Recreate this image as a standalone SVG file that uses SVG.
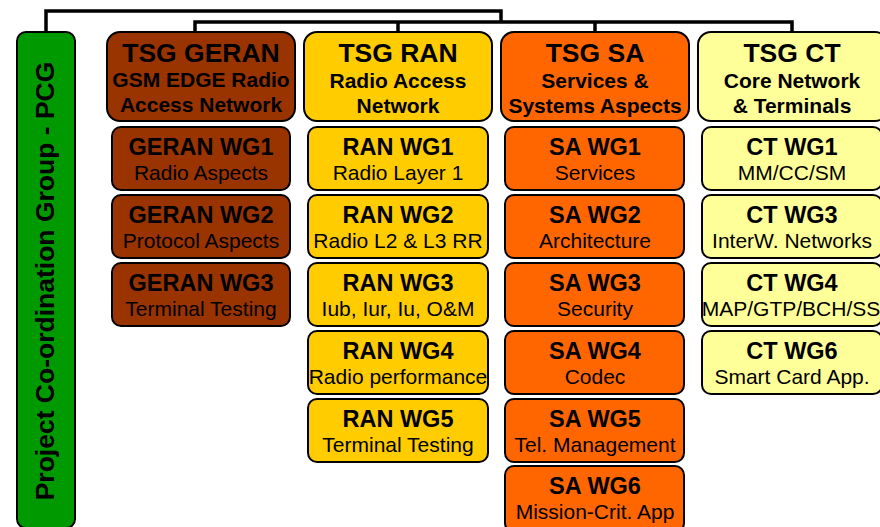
<svg xmlns="http://www.w3.org/2000/svg" width="880" height="527" viewBox="0 0 880 527">
<style>
.box{stroke:#000;stroke-width:2}
.geran{fill:#993300}.ran{fill:#FFCC00}.sa{fill:#FF6600}.ct{fill:#FFFF99}.pcg{fill:#009900}
text{font-family:"Liberation Sans",Arial,sans-serif;fill:#000;text-anchor:middle}
.t{font-size:26.5px;font-weight:bold}
.s{font-size:21px;font-weight:bold}
.w{font-size:23.5px;font-weight:bold}
.d{font-size:21px}
.conn{fill:none;stroke:#000;stroke-width:3.5}
</style>
<rect width="880" height="527" fill="#fff"/>
<g id="connectors">
<path class="conn" d="M46,33 V11 H501 V22"/>
<path class="conn" d="M195,33 V22 H792 V33"/>
<path class="conn" d="M398,22 V33"/>
<path class="conn" d="M595,22 V33"/>
</g>
<g id="pcg">
<rect class="box pcg" x="17" y="32" width="58" height="496" rx="9"/>
<text class="t" transform="translate(54,281) rotate(-90)">Project Co-ordination Group - PCG</text>
</g>
<g id="tsg-geran">
<rect class="box geran" x="107" y="32" width="188" height="89" rx="13"/>
<text class="t" x="201" y="62">TSG GERAN</text>
<text class="s" x="201" y="87">GSM EDGE Radio</text>
<text class="s" x="201" y="112">Access Network</text>
</g>
<g id="tsg-ran">
<rect class="box ran" x="304" y="32" width="188" height="89" rx="13"/>
<text class="t" x="398" y="62">TSG RAN</text>
<text class="s" x="398" y="88">Radio Access</text>
<text class="s" x="398" y="113">Network</text>
</g>
<g id="tsg-sa">
<rect class="box sa" x="501" y="32" width="188" height="89" rx="13"/>
<text class="t" x="595" y="62">TSG SA</text>
<text class="s" x="595" y="88">Services &amp;</text>
<text class="s" x="595" y="113">Systems Aspects</text>
</g>
<g id="tsg-ct">
<rect class="box ct" x="698" y="32" width="190" height="89" rx="13"/>
<text class="t" x="792" y="62">TSG CT</text>
<text class="s" x="792" y="88">Core Network</text>
<text class="s" x="792" y="113">&amp; Terminals</text>
</g>
<g id="geran-wg1"><rect class="box geran" x="112" y="127" width="178" height="63" rx="9"/><text class="w" x="201" y="155">GERAN WG1</text><text class="d" x="201" y="180">Radio Aspects</text></g>
<g id="geran-wg2"><rect class="box geran" x="112" y="195" width="178" height="63" rx="9"/><text class="w" x="201" y="223">GERAN WG2</text><text class="d" x="201" y="248">Protocol Aspects</text></g>
<g id="geran-wg3"><rect class="box geran" x="112" y="263" width="178" height="63" rx="9"/><text class="w" x="201" y="291">GERAN WG3</text><text class="d" x="201" y="316">Terminal Testing</text></g>
<g id="ran-wg1"><rect class="box ran" x="308" y="127" width="180" height="63" rx="9"/><text class="w" x="398" y="155">RAN WG1</text><text class="d" x="398" y="180">Radio Layer 1</text></g>
<g id="ran-wg2"><rect class="box ran" x="308" y="195" width="180" height="63" rx="9"/><text class="w" x="398" y="223">RAN WG2</text><text class="d" x="398" y="248">Radio L2 &amp; L3 RR</text></g>
<g id="ran-wg3"><rect class="box ran" x="308" y="263" width="180" height="63" rx="9"/><text class="w" x="398" y="291">RAN WG3</text><text class="d" x="398" y="316">Iub, Iur, Iu, O&amp;M</text></g>
<g id="ran-wg4"><rect class="box ran" x="308" y="331" width="180" height="63" rx="9"/><text class="w" x="398" y="359">RAN WG4</text><text class="d" x="398" y="384">Radio performance</text></g>
<g id="ran-wg5"><rect class="box ran" x="308" y="399" width="180" height="63" rx="9"/><text class="w" x="398" y="427">RAN WG5</text><text class="d" x="398" y="452">Terminal Testing</text></g>
<g id="sa-wg1"><rect class="box sa" x="505" y="127" width="179" height="63" rx="9"/><text class="w" x="595" y="155">SA WG1</text><text class="d" x="595" y="180">Services</text></g>
<g id="sa-wg2"><rect class="box sa" x="505" y="195" width="179" height="63" rx="9"/><text class="w" x="595" y="223">SA WG2</text><text class="d" x="595" y="248">Architecture</text></g>
<g id="sa-wg3"><rect class="box sa" x="505" y="263" width="179" height="63" rx="9"/><text class="w" x="595" y="291">SA WG3</text><text class="d" x="595" y="316">Security</text></g>
<g id="sa-wg4"><rect class="box sa" x="505" y="331" width="179" height="63" rx="9"/><text class="w" x="595" y="359">SA WG4</text><text class="d" x="595" y="384">Codec</text></g>
<g id="sa-wg5"><rect class="box sa" x="505" y="399" width="179" height="63" rx="9"/><text class="w" x="595" y="427">SA WG5</text><text class="d" x="595" y="452">Tel. Management</text></g>
<g id="sa-wg6"><rect class="box sa" x="505" y="466" width="179" height="66" rx="9"/><text class="w" x="595" y="494">SA WG6</text><text class="d" x="595" y="519">Mission-Crit. App</text></g>
<g id="ct-wg1"><rect class="box ct" x="702" y="127" width="180" height="63" rx="9"/><text class="w" x="792" y="155">CT WG1</text><text class="d" x="792" y="180">MM/CC/SM</text></g>
<g id="ct-wg3"><rect class="box ct" x="702" y="195" width="180" height="63" rx="9"/><text class="w" x="792" y="223">CT WG3</text><text class="d" x="792" y="248">InterW. Networks</text></g>
<g id="ct-wg4"><rect class="box ct" x="702" y="263" width="180" height="63" rx="9"/><text class="w" x="792" y="291">CT WG4</text><text class="d" x="791" y="316">MAP/GTP/BCH/SS</text></g>
<g id="ct-wg6"><rect class="box ct" x="702" y="331" width="180" height="63" rx="9"/><text class="w" x="792" y="359">CT WG6</text><text class="d" x="792" y="384">Smart Card App.</text></g>
</svg>
